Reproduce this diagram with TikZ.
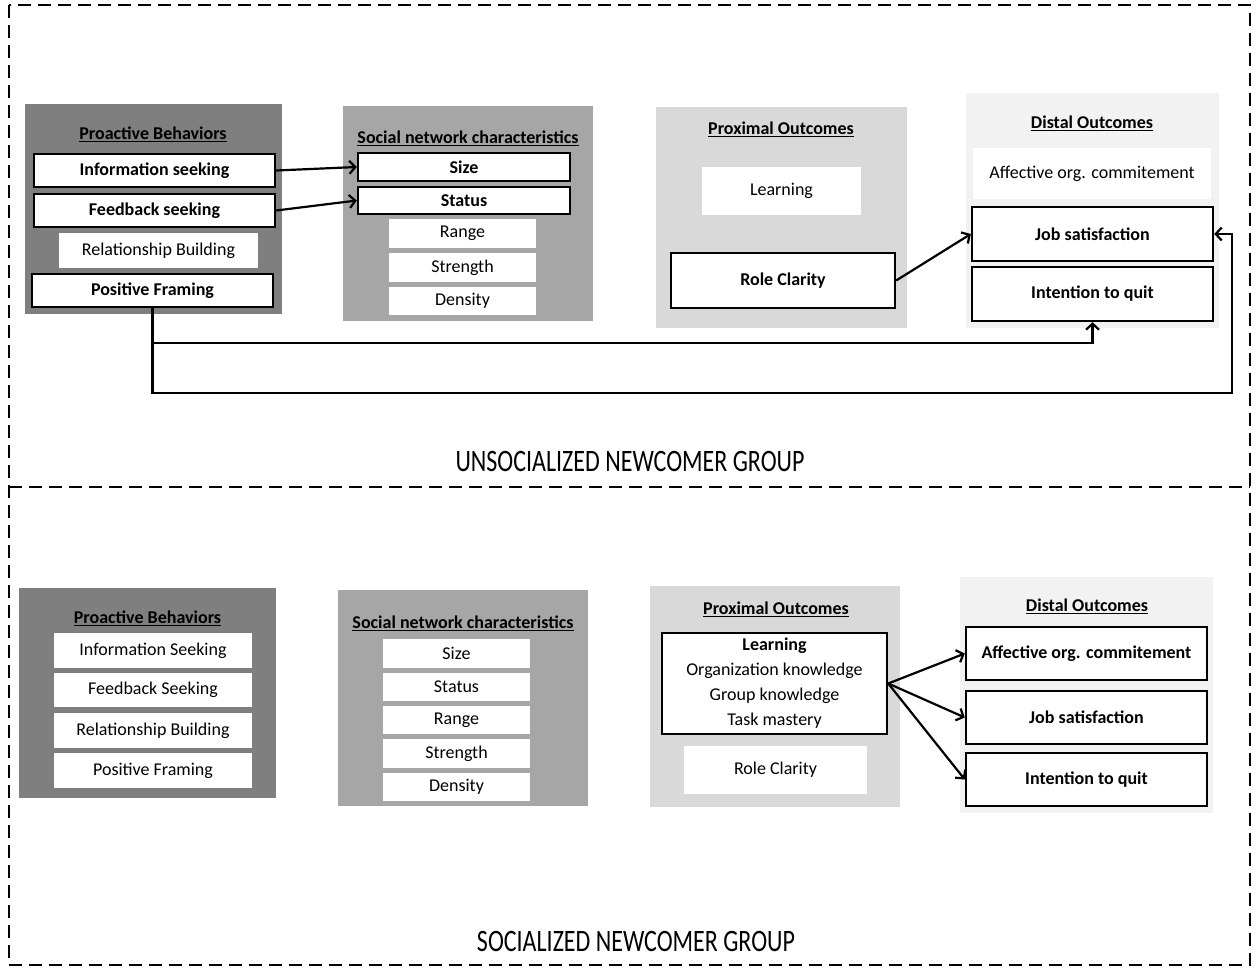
\documentclass[tikz,border=0pt]{standalone}
\usepackage{fontspec}
\setmainfont{Carlito}
\usetikzlibrary{calc,arrows.meta}

\definecolor{pbGray}{HTML}{7F7F7F}
\definecolor{snGray}{HTML}{A6A6A6}
\definecolor{poGray}{HTML}{D9D9D9}
\definecolor{doGray}{HTML}{F2F2F2}

\begin{document}
\begin{tikzpicture}[x=1pt,y=-1pt,
    font=\fontsize{18}{21}\selectfont,
    grp/.style={inner sep=0pt},
    ttl/.style={font=\fontsize{18}{21}\selectfont\bfseries},
    bbox/.style={draw,line width=2.4pt,fill=white,inner sep=0pt,font=\fontsize{18}{21}\selectfont\bfseries},
    wbox/.style={fill=white,inner sep=0pt},
    arr/.style={-{Straight Barb[length=6pt,width=13pt]},line width=2.2pt},
    grpLabel/.style={font=\fontsize{24}{28}\selectfont}]
    \useasboundingbox (0,0) rectangle (1256,968);

    \draw[dash pattern=on 13pt off 7pt,line width=1.5pt] (9,5) rectangle (1250,965);
    \draw[dash pattern=on 13pt off 7pt,line width=1.5pt] (9,487) -- (1250,487);

    \node[grp,fill=pbGray,minimum width=257pt,minimum height=210pt] (pbTop) at (153.5,209) {};
    \node[ttl] (pbTopTitle) at (153,134) {\underline{Proactive Behaviors}};
    \node[bbox,minimum width=241pt,minimum height=33pt] (infoSeek) at (154.5,170.5) {Information seeking};
    \node[bbox,minimum width=241pt,minimum height=33pt] (fbSeek) at (154.5,210.5) {Feedback seeking};
    \node[wbox,minimum width=199pt,minimum height=35pt] (relBuild) at (158.5,250.5) {Relationship Building};
    \node[bbox,minimum width=241pt,minimum height=33pt] (posFrame) at (152.5,290.5) {Positive Framing};

    \node[grp,fill=snGray,minimum width=250pt,minimum height=215pt] (snTop) at (468,213.5) {};
    \node[ttl] (snTopTitle) at (468,138) {\underline{Social network characteristics}};
    \node[bbox,minimum width=212pt,minimum height=28pt] (size) at (464,167) {Size};
    \node[bbox,minimum width=212pt,minimum height=27pt] (status) at (464,200.5) {Status};
    \node[wbox,minimum width=147pt,minimum height=29pt] (range) at (462.5,233.5) {Range};
    \node[wbox,minimum width=147pt,minimum height=29pt] (strength) at (462.5,267.5) {Strength};
    \node[wbox,minimum width=147pt,minimum height=28pt] (density) at (462.5,301) {Density};

    \node[grp,fill=poGray,minimum width=251pt,minimum height=221pt] (poTop) at (781.5,217.5) {};
    \node[ttl] (poTopTitle) at (781,129) {\underline{Proximal Outcomes}};
    \node[wbox,minimum width=159pt,minimum height=48pt] (learn) at (781.5,191) {Learning};
    \node[bbox,minimum width=224pt,minimum height=55pt] (roleCl) at (783,280.5) {Role Clarity};

    \node[grp,fill=doGray,minimum width=253pt,minimum height=235pt] (doTop) at (1092.5,210.5) {};
    \node[ttl] (doTopTitle) at (1092,123) {\underline{Distal Outcomes}};
    \node[wbox,minimum width=238pt,minimum height=51pt] (affComm) at (1092,173.5) {Affective org. commitement};
    \node[bbox,minimum width=241pt,minimum height=54pt] (jobSat) at (1092.5,234) {Job satisfaction};
    \node[bbox,minimum width=241pt,minimum height=54pt] (quitInt) at (1092.5,294) {Intention to quit};

    \draw[arr] (infoSeek.east) -- (size.west);
    \draw[arr] (fbSeek.east) -- (status.west);
    \draw[arr] (roleCl.east) -- (jobSat.west);
    \coordinate (branchA) at (152.5,343);
    \coordinate (loopCorner) at (1232,393);
    \draw[arr] (posFrame.south) |- (loopCorner) |- (jobSat.east);
    \draw[arr] (branchA) -| (quitInt.south);

    \node[grpLabel] (unsocLabel) at (630,461) {\scalebox{1}[1.3]{UNSOCIALIZED NEWCOMER GROUP}};

    \node[grp,fill=pbGray,minimum width=257pt,minimum height=210pt] (pbBot) at (147.5,693) {};
    \node[ttl] (pbBotTitle) at (147.5,618) {\underline{Proactive Behaviors}};
    \node[wbox,minimum width=198pt,minimum height=35pt] (infoSeekB) at (153,650.5) {Information Seeking};
    \node[wbox,minimum width=198pt,minimum height=34pt] (fbSeekB) at (153,690) {Feedback Seeking};
    \node[wbox,minimum width=198pt,minimum height=35pt] (relBuildB) at (153,730.5) {Relationship Building};
    \node[wbox,minimum width=198pt,minimum height=35pt] (posFrameB) at (153,770.5) {Positive Framing};

    \node[grp,fill=snGray,minimum width=250pt,minimum height=216pt] (snBot) at (463,698) {};
    \node[ttl] (snBotTitle) at (463,623) {\underline{Social network characteristics}};
    \node[wbox,minimum width=147pt,minimum height=29pt] (sizeB) at (456.5,653.5) {Size};
    \node[wbox,minimum width=147pt,minimum height=28pt] (statusB) at (456.5,687) {Status};
    \node[wbox,minimum width=147pt,minimum height=28pt] (rangeB) at (456.5,720) {Range};
    \node[wbox,minimum width=147pt,minimum height=29pt] (strengthB) at (456.5,753.5) {Strength};
    \node[wbox,minimum width=147pt,minimum height=28pt] (densityB) at (456.5,787) {Density};

    \node[grp,fill=poGray,minimum width=250pt,minimum height=221pt] (poBot) at (775,696.5) {};
    \node[ttl] (poBotTitle) at (776,609) {\underline{Proximal Outcomes}};
    \node[bbox,font=\fontsize{18}{25}\selectfont,align=center,minimum width=225pt,minimum height=101pt] (learnB) at (774.5,683.5)
      {\textbf{Learning}\\Organization knowledge\\Group knowledge\\Task mastery};
    \node[wbox,minimum width=183pt,minimum height=48pt] (roleClB) at (775.5,770) {Role Clarity};

    \node[grp,fill=doGray,minimum width=253pt,minimum height=236pt] (doBot) at (1086.5,695) {};
    \node[ttl] (doBotTitle) at (1087,606) {\underline{Distal Outcomes}};
    \node[bbox,minimum width=241pt,minimum height=53pt] (affCommB) at (1086.5,653.5) {Affective org. commitement};
    \node[bbox,minimum width=241pt,minimum height=53pt] (jobSatB) at (1086.5,717.5) {Job satisfaction};
    \node[bbox,minimum width=241pt,minimum height=53pt] (quitIntB) at (1086.5,779.5) {Intention to quit};

    \draw[arr] (learnB.east) -- (affCommB.west);
    \draw[arr] (learnB.east) -- (jobSatB.west);
    \draw[arr] (learnB.east) -- (quitIntB.west);

    \node[grpLabel] (socLabel) at (636,941) {\scalebox{1}[1.3]{SOCIALIZED NEWCOMER GROUP}};
\end{tikzpicture}
\end{document}
